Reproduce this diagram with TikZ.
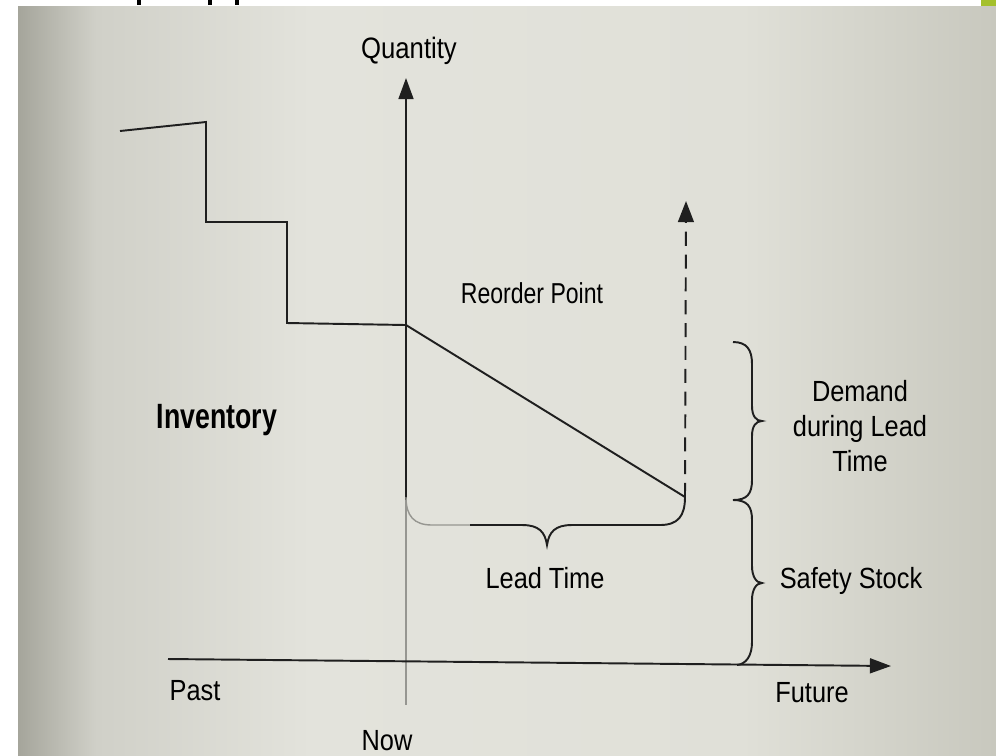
\documentclass[tikz,border=0pt]{standalone}
\usepackage{fontspec}
\setmainfont{Liberation Sans}[FakeStretch=0.87]
\newfontfamily\invfont{Liberation Sans}[FakeStretch=0.76]
\usetikzlibrary{arrows.meta}
\definecolor{bgA}{RGB}{165,165,155}
\definecolor{bgB}{RGB}{208,208,200}
\definecolor{bgC}{RGB}{227,227,220}
\definecolor{bgD}{RGB}{224,224,216}
\definecolor{bgE}{RGB}{200,200,190}
\definecolor{tabgreen}{RGB}{164,192,44}
\definecolor{faded}{RGB}{150,150,145}
\pgfdeclarehorizontalshading{paper}{100bp}{color(0bp)=(bgA); color(25bp)=(bgA); color(29bp)=(bgB); color(40bp)=(bgC); color(62bp)=(bgD); color(75bp)=(bgE); color(100bp)=(bgE)}
\tikzset{
  lbl/.style={font=\fontsize{16.6}{19}\selectfont, anchor=base, inner sep=0pt, text=black},
  ink/.style={line width=1.1pt, black!88},
  axisline/.style={ink, -{Triangle[length=12pt,width=8.5pt]}},
  fadeline/.style={line width=0.8pt, faded},
  bracepath/.style={line width=1.1pt, black!88}
}
\begin{document}
\begin{tikzpicture}[x=0.02cm, y=-0.02cm]
\useasboundingbox (0,0) rectangle (996,755);
% paper / photo background
\fill[white] (0,0) rectangle (996,755);
\shade[shading=paper] (18,6) rectangle (996,755);
\fill[tabgreen] (981,0) rectangle (996,6);
\fill[black] (137,0) rectangle (141,5);
\fill[black] (208,0) rectangle (212,5);
\fill[black] (235,0) rectangle (239,5);

% key points
\coordinate (vbot) at (406,705);
\coordinate (vtop) at (406,78);
\coordinate (hleft) at (168,659);
\coordinate (hright) at (891,666);
\coordinate (s0) at (120,131);
\coordinate (s1) at (206,122);
\coordinate (s2) at (206,222);
\coordinate (s3) at (287,222);
\coordinate (s4) at (287,323);
\coordinate (rp) at (406,325);
\coordinate (low) at (685,497);
\coordinate (dtop) at (686,201);
\coordinate (ltleft) at (406,497);

% axes
\draw[fadeline] (406,500) -- (vbot);
\draw[axisline] (406,500) -- (vtop);
\draw[axisline] (hleft) -- (hright);

% inventory staircase and depletion
\draw[ink, line join=miter] (s0) -- (s1) -- (s2) -- (s3) -- (s4) -- (rp) -- (low);

% dashed replenishment
\draw[ink, dash pattern=on 8pt off 5pt, -{Triangle[length=12pt,width=9pt]}] (low) -- (dtop);

% lead time brace
\draw[fadeline] (ltleft) .. controls (406,516) and (414,525) .. (432,525) -- (470,525);
\draw[bracepath] (470,525) -- (522,525) .. controls (539,525) and (545,532) .. (547,545)
  .. controls (549,532) and (555,525) .. (572,525) -- (660,525)
  .. controls (678,525) and (685,516) .. (low);

% demand brace
\draw[bracepath] (733,342) .. controls (747,342) and (752,350) .. (752,364) -- (752,406)
  .. controls (752,416) and (756,421) .. (762,421)
  .. controls (756,421) and (752,426) .. (752,436) -- (752,480)
  .. controls (752,494) and (747,500) .. (733,500);
% safety stock brace
\draw[bracepath] (733,500) .. controls (747,500) and (752,506) .. (752,520) -- (752,566)
  .. controls (752,576) and (756,583) .. (762,583)
  .. controls (756,583) and (752,590) .. (752,600) -- (752,642)
  .. controls (752,656) and (746,664) .. (737,665);

% labels
\node[lbl, font=\fontsize{16.8}{19}\selectfont] (q) at (409,58) {Quantity};
\node[lbl, font=\addfontfeatures{FakeStretch=0.8}\fontsize{16.4}{19}\selectfont] (ro) at (532,303) {Reorder Point};
\node[lbl, font=\invfont\bfseries\fontsize{20}{24}\selectfont] (inv) at (217,428) {Inventory};
\node[lbl] (d1) at (860,401) {Demand};
\node[lbl] (d2) at (860,436) {during Lead};
\node[lbl] (d3) at (860,471) {Time};
\node[lbl] (ss) at (851,588) {Safety Stock};
\node[lbl] (lt) at (545,588) {Lead Time};
\node[lbl] (past) at (195,700) {Past};
\node[lbl] (fut) at (812,702) {Future};
\node[lbl] (now) at (387,750) {Now};
\end{tikzpicture}
\end{document}
